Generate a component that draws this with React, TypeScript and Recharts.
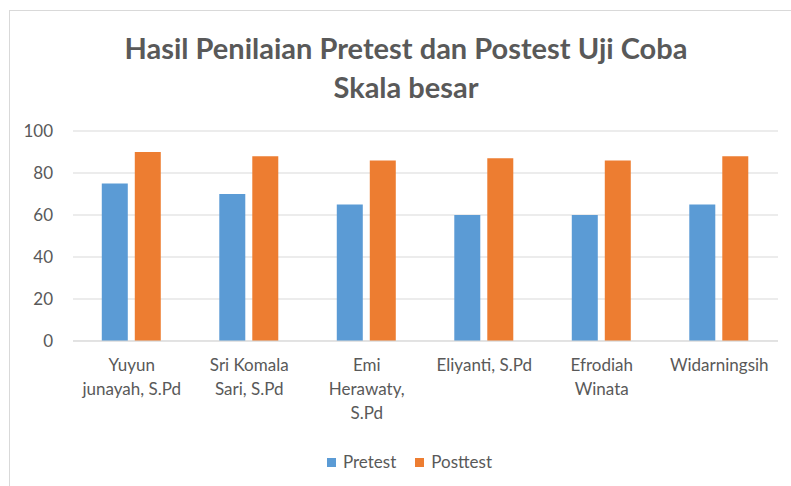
import React from "react";
import { BarChart, Bar, XAxis, YAxis, CartesianGrid, Legend } from "recharts";

const categories = [
  "Yuyun\njunayah, S.Pd",
  "Sri Komala\nSari, S.Pd",
  "Emi\nHerawaty,\nS.Pd",
  "Eliyanti, S.Pd",
  "Efrodiah\nWinata",
  "Widarningsih",
];
const pretest = [75, 70, 65, 60, 60, 65];
const posttest = [90, 88, 86, 87, 86, 88];
const yTicks = [0, 20, 40, 60, 80, 100];
const titleLines = ["Hasil Penilaian Pretest dan Postest Uji Coba", "Skala besar"];
const seriesOrder = ["Pretest", "Posttest"];

const data = categories.map((name, i) => ({ name, Pretest: pretest[i], Posttest: posttest[i] }));

const FONT = "Lato, 'Open Sans', sans-serif";
const GRAY = "#595959";

const CatTick = (props: any) => {
  const { x, y, payload } = props;
  const lines = String(payload.value).split("\n");
  return (
    <g transform={`translate(${x},${y})`}>
      {lines.map((l: string, i: number) => (
        <text key={i} x={0} y={0} dy={22 + i * 24} textAnchor="middle" fill={GRAY} fontSize={17} fontFamily={FONT}>
          {l}
        </text>
      ))}
    </g>
  );
};

const LegendContent = (props: any) => {
  const payload = [...(props.payload || [])].sort(
    (a: any, b: any) => seriesOrder.indexOf(a.value) - seriesOrder.indexOf(b.value)
  );
  return (
    <div style={{ display: "flex", justifyContent: "center", fontFamily: FONT, fontSize: 17, color: GRAY, lineHeight: "20px" }}>
      {payload.map((p: any, i: number) => (
        <div key={i} style={{ display: "flex", alignItems: "center", marginRight: i === payload.length - 1 ? 0 : 19 }}>
          <span style={{ width: 9, height: 9, background: p.color, display: "inline-block", marginRight: 7 }} />
          <span>{p.value}</span>
        </div>
      ))}
    </div>
  );
};

export default function App() {
  return (
    <div style={{ position: "absolute", left: 0, top: 0, width: 791, height: 486, background: "#fff", overflow: "hidden" }}>
      <div style={{ position: "absolute", left: 9, top: 10, width: 800, height: 500, border: "1px solid #d9d9d9", boxSizing: "border-box" }} />
      <div style={{ position: "absolute", left: 0, top: 28, width: 812, textAlign: "center", fontFamily: FONT, fontWeight: 700, fontSize: 29, color: GRAY, lineHeight: "39px" }}>
        {titleLines.map((t, i) => (
          <div key={i}>{t}</div>
        ))}
      </div>
      <div style={{ position: "absolute", left: 0, top: 0 }}>
        <BarChart width={791} height={486} data={data} margin={{ top: 131, right: 13, bottom: 44, left: 0 }} barCategoryGap="24.5%" barGap={7}>
          <CartesianGrid vertical={false} stroke="#d9d9d9" />
          <XAxis dataKey="name" axisLine={{ stroke: "#d9d9d9" }} tickLine={false} interval={0} height={81} tick={<CatTick />} />
          <YAxis domain={[0, 100]} ticks={yTicks} width={73} axisLine={false} tickLine={false} tickMargin={14} tick={{ fill: GRAY, fontSize: 17, fontFamily: FONT }} />
          <Legend content={<LegendContent />} wrapperStyle={{ left: 0, width: 819, top: 452 }} />
          <Bar dataKey="Pretest" fill="#5B9BD5" isAnimationActive={false} />
          <Bar dataKey="Posttest" fill="#ED7D31" isAnimationActive={false} />
        </BarChart>
      </div>
    </div>
  );
}
